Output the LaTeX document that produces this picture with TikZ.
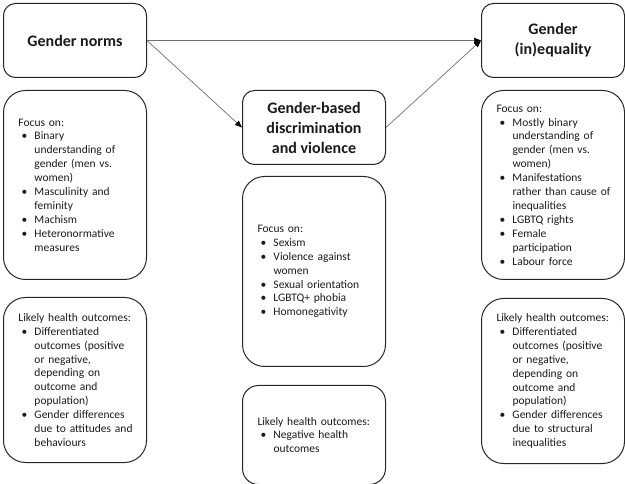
\documentclass[tikz,border=0pt]{standalone}
\usepackage{fontspec}
\setmainfont{Carlito}
\usetikzlibrary{arrows.meta, positioning}
\definecolor{boxline}{HTML}{262626}
\definecolor{arrowline}{HTML}{707070}
\definecolor{textcol}{HTML}{1A1A1A}
\newcommand{\bitem}{\par\hangindent=16pt\hangafter=1\noindent\makebox[16pt][l]{\hspace{3pt}\textbullet}}

\begin{document}
\begin{tikzpicture}[
  node distance=12pt and 95pt,
  head/.style={
    rectangle, draw=boxline, line width=1pt, rounded corners=12pt,
    minimum width=143pt, minimum height=74pt, inner sep=2pt,
    align=center, text=textcol, font=\fontsize{16}{20}\selectfont\bfseries
  },
  info/.style={
    rectangle, draw=boxline, line width=1pt, rounded corners=22pt,
    text width=135pt, inner xsep=4pt, inner ysep=2pt, minimum height=#1,
    align=left, text=textcol, font=\fontsize{11.5}{13.9}\selectfont,
    execute at begin node={\leftskip=11pt\relax}
  },
  arr/.style={-{Triangle[length=7pt,width=5.5pt,color=black]}, draw=arrowline, line width=0.7pt},
]
  \useasboundingbox (0,0) rectangle (625pt,-484pt);

  % Gender norms column
  \node[head, anchor=north west] (norms) at (3pt,-3pt) {Gender norms};
  \node[info=189pt, below=of norms] (normsfocus) {Focus on:
    \bitem Binary\newline understanding of\newline gender (men vs.\newline women)
    \bitem Masculinity and\newline feminity
    \bitem Machism
    \bitem Heteronormative\newline measures\par};
  \node[info=165pt, below=17pt of normsfocus] (normsout) {Likely health outcomes:
    \bitem Differentiated\newline outcomes (positive\newline or negative,\newline depending on\newline outcome and\newline population)
    \bitem Gender differences\newline due to attitudes and\newline behaviours\par};

  % Gender-based discrimination column
  \node[head, below right=of norms] (gbv) {Gender-based\\discrimination\\and violence};
  \node[info=190pt, below=11pt of gbv] (gbvfocus) {Focus on:
    \bitem Sexism
    \bitem Violence against\newline women
    \bitem Sexual orientation
    \bitem LGBTQ+ phobia
    \bitem Homonegativity\par};
  \node[info=99pt, rounded corners=16pt, below=18pt of gbvfocus] (gbvout) {Likely health outcomes:
    \bitem Negative health\newline outcomes\par};

  % Gender (in)equality column
  \node[head, right=334pt of norms] (ineq) {Gender\\(in)equality};
  \node[info=189pt, below=12pt of ineq] (ineqfocus) {Focus on:
    \bitem Mostly binary\newline understanding of\newline gender (men vs.\newline women)
    \bitem Manifestations\newline rather than cause of\newline inequalities
    \bitem LGBTQ rights
    \bitem Female\newline participation
    \bitem Labour force\par};
  \node[info=165pt, below=18pt of ineqfocus] (ineqout) {Likely health outcomes:
    \bitem Differentiated\newline outcomes (positive\newline or negative,\newline depending on\newline outcome and\newline population)
    \bitem Gender differences\newline due to structural\newline inequalities\par};

  % Arrows
  \draw[arr] (norms.east) -- (ineq.west);
  \draw[arr] (norms.east) -- (gbv.west);
  \draw[arr] (gbv.east) -- (ineq.west);
\end{tikzpicture}
\end{document}
